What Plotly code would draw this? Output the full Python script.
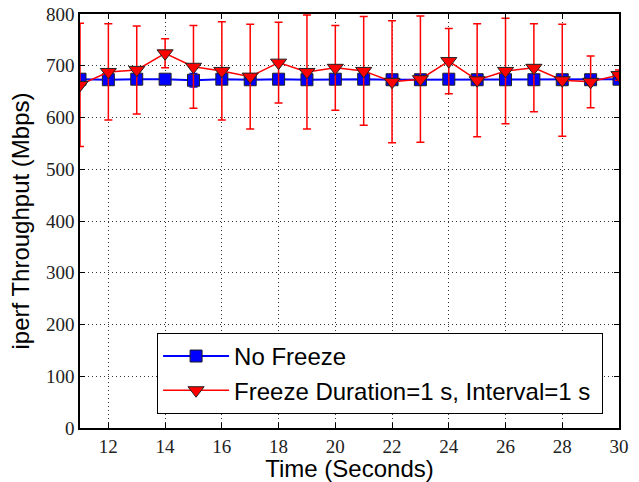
import plotly.graph_objects as go

time_s = list(range(11, 31))
no_freeze = [674, 673, 674, 674, 672, 674, 673, 674, 673, 674, 674, 673, 673, 674, 673, 673, 673, 673, 673, 674]
no_freeze_err = [6, 5, 5, 5, 13, 5, 5, 5, 5, 5, 5, 5, 5, 5, 5, 5, 5, 5, 5, 5]
freeze = [663, 688, 692, 724, 698, 690, 679, 706, 688, 696, 690, 669, 674, 709, 672, 690, 696, 672, 669, 682]
freeze_err = [119, 93, 85, 28, 80, 95, 101, 78, 110, 82, 105, 118, 122, 63, 109, 102, 85, 108, 50, 10]

fig = go.Figure()
fig.add_trace(go.Scatter(
    x=time_s, y=no_freeze, name="No Freeze", mode="lines+markers",
    line=dict(color="#0000ff", width=2),
    marker=dict(symbol="square", size=12, color="#0000ff", line=dict(color="#222222", width=1)),
    error_y=dict(type="data", array=no_freeze_err, color="#0000ff", thickness=1.5, width=4),
    legendgroup="a",
))
fig.add_trace(go.Scatter(
    x=time_s, y=freeze, name="Freeze Duration=1 s, Interval=1 s\u00a0", mode="lines+markers",
    line=dict(color="#ff0000", width=1.5),
    marker=dict(symbol="triangle-down", size=14, color="#ff0000", line=dict(color="#222222", width=1)),
    error_y=dict(type="data", array=freeze_err, color="#ff0000", thickness=1.5, width=4),
    legendgroup="b",
))

tick_font = dict(family="Liberation Serif", size=19, color="#222222")
title_font = dict(family="Liberation Sans", size=24, color="#000000")

fig.update_layout(
    width=639, height=482,
    margin=dict(l=80, r=20, t=14, b=54, autoexpand=False),
    paper_bgcolor="white", plot_bgcolor="white",
    showlegend=True,
    legend=dict(
        x=0.143, y=0.034, xanchor="left", yanchor="bottom",
        bordercolor="black", borderwidth=1, bgcolor="white",
        font=dict(family="Liberation Sans", size=24, color="#000000"),
        tracegroupgap=0, itemwidth=66,
    ),
)
grid_style = dict(showgrid=True, gridcolor="#333333", griddash="1px,3px", gridwidth=1)
fig.update_xaxes(
    range=[11, 30], tickvals=list(range(12, 31, 2)), automargin=False,
    ticks="inside", ticklen=5, tickcolor="black", ticklabeloverflow="allow",
    showline=True, linecolor="black", linewidth=1.5, mirror="ticks",
    zeroline=False, tickfont=tick_font,
    title=dict(text="Time (Seconds)", font=title_font, standoff=2),
    **grid_style,
)
fig.update_yaxes(
    range=[0, 800], tickvals=list(range(0, 801, 100)), automargin=False,
    ticks="inside", ticklen=5, tickcolor="black", ticklabeloverflow="allow",
    showline=True, linecolor="black", linewidth=1.5, mirror="ticks",
    zeroline=False, tickfont=tick_font,
    title=dict(text="iperf Throughput (Mbps)", font=title_font, standoff=10),
    **grid_style,
)
fig.write_html("out.html", config={"displayModeBar": False},
               post_script="document.body.style.margin='0';")
